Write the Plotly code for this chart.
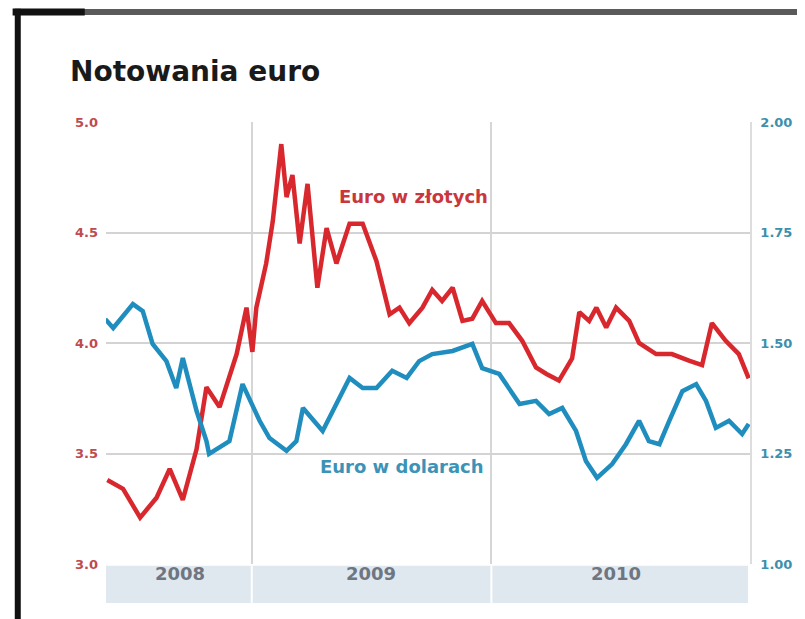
import plotly.graph_objects as go

# --- data ---
pln_dates = ["2008-05-26","2008-06-19","2008-07-15","2008-08-09","2008-08-29","2008-09-18",
             "2008-10-09","2008-10-24","2008-11-13","2008-12-09","2008-12-24","2009-01-02",
             "2009-01-08","2009-01-23","2009-02-02","2009-02-15","2009-02-23","2009-03-04",
             "2009-03-15","2009-03-27","2009-04-11","2009-04-25","2009-05-10","2009-05-30",
             "2009-06-19","2009-07-10","2009-07-30","2009-08-14","2009-08-29","2009-09-18",
             "2009-10-03","2009-10-18","2009-11-03","2009-11-18","2009-12-03","2009-12-18",
             "2010-01-08","2010-01-28","2010-02-17","2010-03-10","2010-03-26","2010-04-14",
             "2010-05-04","2010-05-15","2010-05-30","2010-06-10","2010-06-25","2010-07-10",
             "2010-07-30","2010-08-14","2010-09-09","2010-10-03","2010-10-29","2010-11-18",
             "2010-12-03","2010-12-24","2011-01-13","2011-01-28"]
pln_values = [3.38,3.34,3.21,3.30,3.43,3.29,
              3.52,3.80,3.71,3.95,4.16,3.96,
              4.16,4.36,4.55,4.90,4.66,4.76,
              4.45,4.72,4.25,4.52,4.36,4.54,
              4.54,4.37,4.13,4.16,4.09,4.16,
              4.24,4.19,4.25,4.10,4.11,4.19,
              4.09,4.09,4.01,3.89,3.86,3.83,
              3.93,4.14,4.10,4.16,4.07,4.16,
              4.10,4.00,3.95,3.95,3.92,3.90,
              4.09,4.01,3.95,3.84]

usd_dates = ["2008-05-23","2008-06-04","2008-07-04","2008-07-19","2008-08-03","2008-08-24",
             "2008-09-08","2008-09-18","2008-10-09","2008-10-24","2008-10-28","2008-11-28",
             "2008-12-18","2009-01-13","2009-01-28","2009-02-23","2009-03-10","2009-03-20",
             "2009-04-19","2009-05-10","2009-05-30","2009-06-19","2009-07-10","2009-08-03",
             "2009-08-25","2009-09-13","2009-10-03","2009-11-03","2009-12-03","2009-12-18",
             "2010-01-13","2010-02-13","2010-03-10","2010-03-30","2010-04-19","2010-05-10",
             "2010-05-25","2010-06-11","2010-07-04","2010-07-25","2010-08-14","2010-08-29",
             "2010-09-14","2010-09-29","2010-10-19","2010-11-09","2010-11-24","2010-12-09",
             "2010-12-29","2011-01-18","2011-01-28"]
usd_values = [1.554,1.534,1.588,1.572,1.498,1.459,
              1.398,1.466,1.346,1.278,1.249,1.278,
              1.407,1.324,1.285,1.256,1.278,1.353,
              1.301,1.362,1.421,1.398,1.398,1.437,
              1.421,1.459,1.475,1.482,1.498,1.443,
              1.430,1.362,1.369,1.339,1.353,1.301,
              1.233,1.195,1.226,1.271,1.324,1.278,
              1.271,1.324,1.391,1.407,1.369,1.308,
              1.324,1.294,1.317]

pln_ticks = [3.0, 3.5, 4.0, 4.5, 5.0]
usd_ticks = [1.00, 1.25, 1.50, 1.75, 2.00]
year_labels = ["2008", "2009", "2010"]
year_centers = ["2008-09-14", "2009-07-02", "2010-07-10"]
year_bounds = ["2009-01-01", "2010-01-01"]

RED = "#d8282e"
BLUE = "#1f8dbd"
FONT = "DejaVu Sans, Verdana, sans-serif"

fig = go.Figure()
fig.add_trace(go.Scatter(x=pln_dates, y=pln_values, mode="lines",
                         line=dict(color=RED, width=4.5), yaxis="y", showlegend=False))
fig.add_trace(go.Scatter(x=usd_dates, y=usd_values, mode="lines",
                         line=dict(color=BLUE, width=4.5), yaxis="y2", showlegend=False))

shapes = []
# bottom band with year labels
shapes.append(dict(type="rect", xref="paper", yref="paper", x0=0.0, x1=0.997,
                   y0=-0.088, y1=-0.004, fillcolor="#dfe8ef", line=dict(width=0), layer="below"))
for b in year_bounds:
    shapes.append(dict(type="line", xref="x", yref="paper", x0=b, x1=b, y0=-0.088, y1=-0.004,
                       line=dict(color="white", width=2)))
# frame
shapes.append(dict(type="line", xref="paper", yref="paper", x0=-0.14, x1=1.12, y0=1.249, y1=1.249,
                   line=dict(color="#5a5a5a", width=6)))
shapes.append(dict(type="line", xref="paper", yref="paper", x0=-0.145, x1=-0.033, y0=1.249, y1=1.249,
                   line=dict(color="#111111", width=7)))
shapes.append(dict(type="line", xref="paper", yref="paper", x0=-0.137, x1=-0.137, y0=1.256, y1=-0.16,
                   line=dict(color="#111111", width=6)))

annotations = [
    dict(text="<b>Notowania euro</b>", xref="paper", yref="paper", x=-0.059, y=1.114,
         xanchor="left", yanchor="middle", showarrow=False,
         font=dict(family=FONT, size=28, color="#1a1a1a")),
    dict(text="<b>Euro w złotych</b>", xref="x", yref="y", x="2009-09-05", y=4.665,
         showarrow=False, font=dict(family=FONT, size=18, color="#c9373d")),
    dict(text="<b>Euro w dolarach</b>", xref="x", yref="y2", x="2009-08-18", y=1.22,
         showarrow=False, font=dict(family=FONT, size=18, color="#3b93b8")),
]
for lab, c in zip(year_labels, year_centers):
    annotations.append(dict(text="<b>" + lab + "</b>", xref="x", yref="paper", x=c, y=-0.05,
                            showarrow=False,
                            font=dict(family=FONT, size=18, color="#6e7682")))

fig.update_layout(
    width=805, height=619,
    paper_bgcolor="white", plot_bgcolor="white",
    margin=dict(l=98, r=63, t=114, b=63),
    xaxis=dict(range=["2008-05-24", "2011-01-30"], type="date",
               tickvals=year_bounds, showticklabels=False, ticks="",
               showgrid=True, gridcolor="#d6d6d6", gridwidth=1.5, zeroline=False,
               showline=False),
    yaxis=dict(range=[3.0, 5.0], tickvals=pln_ticks, tickformat=".1f",
               tickfont=dict(family=FONT, size=13, color="#c04a4e", weight="bold"),
               showgrid=True, gridcolor="#d3d3d3", gridwidth=2, zeroline=False,
               ticks="", ticklabelstandoff=7),
    yaxis2=dict(range=[1.0, 2.0], tickvals=usd_ticks, tickformat=".2f",
                overlaying="y", side="right", showgrid=False, zeroline=False,
                showline=True, linecolor="#dddddd", linewidth=1.5,
                tickfont=dict(family=FONT, size=13, color="#3d8fab", weight="bold"),
                ticks="", ticklabelstandoff=6),
    shapes=shapes,
    annotations=annotations,
    showlegend=False,
)

fig.write_html("out.html")
